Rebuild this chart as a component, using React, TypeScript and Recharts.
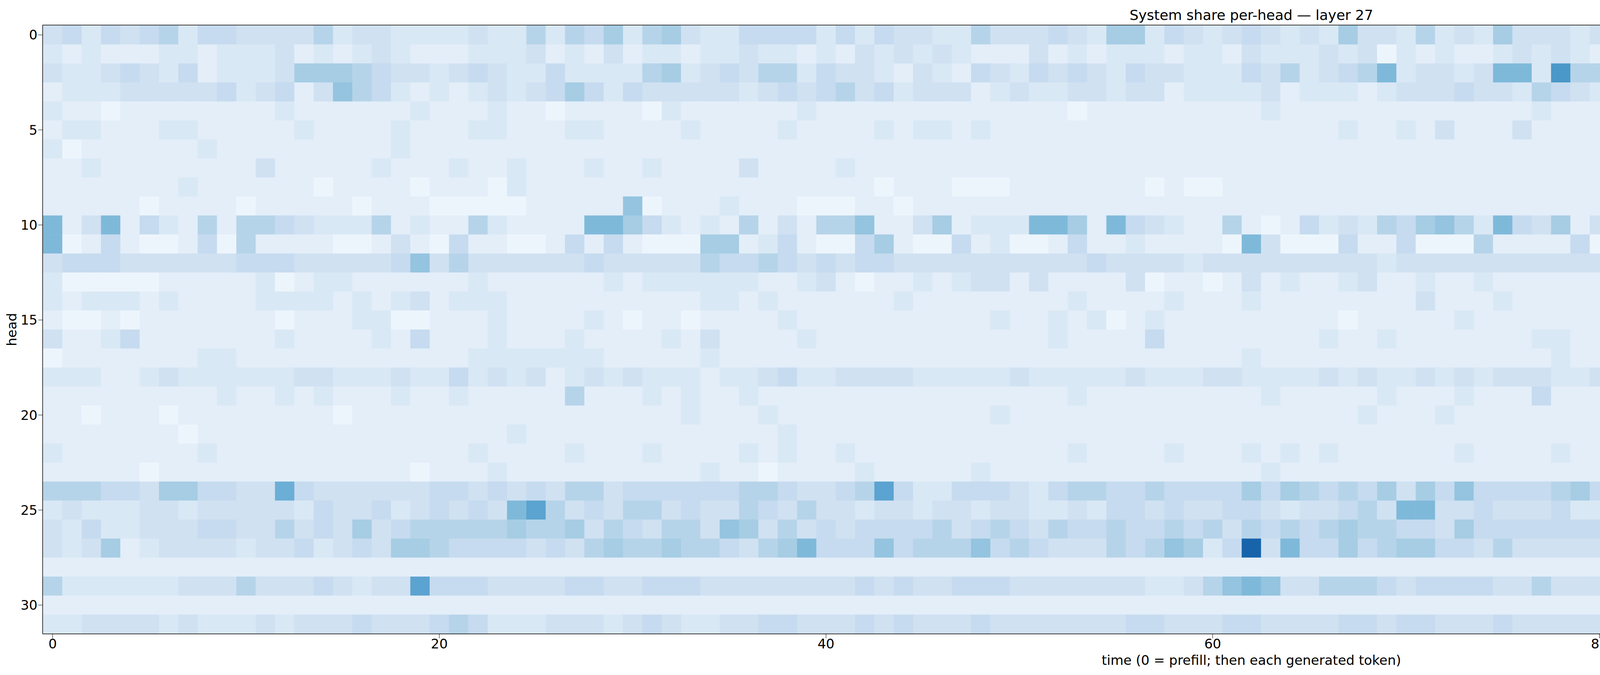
// @ts-nocheck
import { ScatterChart, Scatter, XAxis, YAxis, ComposedChart, ReferenceArea, Label } from 'recharts'

// each row = one head, 125 time steps; char index in SCALE / 20 = share
const SCALE = '0123456789ABCDEFGHIJK'
const H00 = '45354 56355 44446 34433 33433 63657 36743 35555 35354 43364 44543 77354 34543 43744 36343 74443 46434 33434 33744 45633 46353 63534 43423 44363 43444'
const H01 = '32322 23323 33423 23432 22333 42324 23323 34332 32434 34322 24232 33323 32433 34341 32322 34343 23232 33224 32334 34233 23342 32342 32323 33332 23234'
const H02 = '43345 43523 33477 76544 34543 35333 36734 54663 54432 43254 35454 35443 33546 34569 34434 993C6 64333 24334 33353 55342 33433 32234 43234 33332 33334'
const H03 = '23334 44445 34524 86532 32343 45753 54444 43454 56453 44423 43344 34423 33342 33323 44454 43654 34434 34342 42322 33352 23453 53333 44324 34232 33333'
const H04 = '32212 22222 22322 22223 22232 21222 21322 22223 22222 22222 22212 22222 22232 22222 22222 22322 22222 22222 22222 22232 22222 52222 22323 23232 22223'
const H05 = '23322 23322 22232 22232 22332 22332 22232 22232 22232 33232 22222 22222 22222 22322 32422 24222 22222 22222 22222 32222 23222 32232 22222 22422 23243'
const H06 = '31222 22232 22222 22232 22222 22222 22222 22222 22222 22222 22222 22222 22222 22222 22222 22222 22222 22222 22222 22222 22222 22222 22222 22222 22222'
const H07 = '22322 22222 24222 22322 23223 22232 23222 24222 23222 22222 22222 22222 22222 22222 22222 22222 22222 22222 22222 24222 24222 72422 22424 22232 25222'
const H08 = '22222 22322 22221 22221 22213 22222 22222 22222 22212 22111 22222 22121 12222 22222 22222 22222 22222 22222 22222 22222 21111 31111 22222 22222 22223'
const H09 = '22222 12222 12222 21222 11111 22222 81222 32221 11221 22222 22222 22222 22222 22222 22222 22222 22222 22212 22222 21222 22222 12222 22222 22222 22222'
const H10 = '92492 53262 66543 33623 22632 22299 75323 26242 66822 47233 39972 95432 26212 53436 57863 95472 45545 36278 57426 23556 66354 66328 24423 76312 63236'
const H11 = '91252 11251 62222 11242 15221 12525 21117 72352 11572 11523 11252 23222 21941 11522 51116 22225 11154 42542 22225 21461 21121 55121 23223 52545 21222'
const H12 = '45554 44444 55544 44458 46444 44454 44446 55654 54554 44444 44445 44443 44444 44443 44444 44444 44345 44444 44445 44444 44555 34444 44455 44444 44444'
const H13 = '31111 12222 23123 32222 22322 22223 23333 33223 42122 32344 24222 24122 12423 22342 23223 22222 22323 12222 22222 23232 43222 32233 24223 24233 34332'
const H14 = '32333 23222 23333 23234 23332 22222 22223 32322 22223 22222 22232 22232 22322 22222 24222 32222 22223 22222 22232 22322 33223 33222 22323 22322 33333'
const H15 = '21121 22222 22122 23311 22232 22232 12212 22232 22222 22223 22323 12322 22222 22122 22232 22222 22323 22222 22222 22222 32222 22222 22222 22222 22233'
const H16 = '42235 22222 22322 22325 22232 22322 22324 22223 22222 22222 22322 22522 22222 23223 22222 22332 22223 42222 22223 22222 62222 43222 22222 22222 22225'
const H17 = '12222 22233 22222 22222 22333 33332 22223 22222 22222 22222 22222 22222 22322 22222 22222 22232 22223 22222 22232 22222 12223 22222 22221 22222 22222'
const H18 = '33322 34333 33344 33343 35343 42343 43332 33453 34444 33333 43333 34333 44333 34343 34343 44433 43333 34444 33232 32544 33433 34242 32333 33323 22233'
const H19 = '22222 22223 22323 22232 23222 22622 23232 23222 22222 22222 22232 22222 22232 22223 22232 22522 22222 22222 22222 22222 22232 22262 22222 22222 22223'
const H20 = '22122 21222 22222 12222 22222 22222 22232 22322 22222 22223 22222 22222 22222 22232 22322 22222 22222 22222 22222 23222 22222 22122 22222 22222 22322'
const H21 = '22222 22122 22222 22222 22223 22222 22222 22232 22222 22222 22222 22222 22222 22222 22222 22222 22222 22222 22222 22222 22222 22222 22222 22222 22222'
const H22 = '32222 22232 22222 22222 22322 22322 23222 23232 23222 22222 22232 22232 22323 23222 22232 22232 22222 23322 22252 22322 22222 22222 22322 22222 22222'
const H23 = '22222 12222 22222 22221 22232 22222 22223 22122 22322 22232 22222 22222 22232 22222 22222 22222 22222 22222 22232 22323 22222 22323 22232 22222 22222'
const H24 = '66655 47755 44A54 44444 55454 54664 55555 56654 456B5 33555 43566 55655 55757 65657 47585 55567 55545 66666 44554 66666 85655 4655A 66555 6A655 38455'
const H25 = '34333 44344 44435 44534 54549 B6454 66454 46546 44344 34434 43343 55454 45543 44564 99445 44453 33553 44553 4B534 66434 45545 44443 34343 43343 33344'
const H26 = '43533 44455 44645 47456 66667 66746 54664 87464 54555 56456 54655 65565 64656 56766 55475 55555 55555 44555 56455 55544 54554 44643 45655 34444 33335'
const H27 = '43472 34444 34453 45477 65555 45467 66766 54679 55585 66685 65444 65687 35G49 55756 77554 64444 44566 44566 48456 56676 84454 56343 66666 66554 K8864'
const H28 = '22222 22222 22222 22222 22222 22222 22222 22222 22222 22222 22222 22222 22222 22222 22222 22222 22222 22222 22222 22222 22222 22222 22222 22222 22222'
const H29 = '63333 33444 64445 4344B 55544 44554 45554 44444 44545 44555 44444 44334 68984 46665 45555 44644 44444 44444 44544 66544 44444 44444 44444 44A64 55A33'
const H30 = '22222 22222 22222 22222 22222 22222 22222 22222 22222 22222 22222 22222 22222 22222 22222 22222 22222 22222 22222 22222 22222 22222 22222 22222 22222'
const H31 = '33444 43433 34344 45444 56533 34443 45433 44554 44545 44454 44444 45544 45544 44554 55444 54444 43444 44446 66444 44444 54543 44433 33333 33333 22222'
const HEADS = [H00, H01, H02, H03, H04, H05, H06, H07, H08, H09, H10, H11, H12, H13, H14, H15, H16, H17, H18, H19, H20, H21, H22, H23, H24, H25, H26, H27, H28, H29, H30, H31]
const X_TICKS = [0, 20, 40, 60, 80, 100, 120]
const Y_TICKS = [0, 5, 10, 15, 20, 25, 30]
const CB_TICKS = [0, 0.2, 0.4, 0.6, 0.8, 1.0]

const BLUES = ['#f7fbff', '#deebf7', '#c6dbef', '#9ecae1', '#6baed6', '#4292c6', '#2171b5', '#08519c', '#08306b']
const hex = (h) => [1, 3, 5].map(i => parseInt(h.slice(i, i + 2), 16))
function blues(v) {
  const t = Math.max(0, Math.min(1, v)) * 8
  const i = Math.min(7, Math.floor(t))
  const f = t - i
  const a = hex(BLUES[i]), b = hex(BLUES[i + 1])
  return `rgb(${a.map((c, k) => Math.round(c + (b[k] - c) * f)).join(',')})`
}

const cells = []
HEADS.forEach((row, h) => {
  row.replace(/ /g, '').split('').forEach((ch, t) => {
    cells.push({ t, h, v: SCALE.indexOf(ch) / 20 })
  })
})

const W = 7875, H = 1728
const PL = 110, PR = 6297, PT = 65, PB = 1622
const CW = (PR - PL) / 125, CH = (PB - PT) / 32
const font = { fontFamily: 'DejaVu Sans', fontSize: 34, fill: '#000' }

const Cell = ({ cx, cy, payload }) => (
  <rect x={cx - CW / 2} y={cy - CH / 2} width={CW + 0.6} height={CH + 0.6} fill={blues(payload.v)} />
)

export default function App() {
  return (
    <div style={{ position: 'absolute', left: 0, top: 0, width: W, height: H, background: '#fff' }}>
      <div style={{ position: 'absolute', left: 0, top: 0 }}>
        <ScatterChart width={W} height={H} margin={{ left: PL - 80, top: PT, right: W - PR, bottom: H - PB - 80 }}>
          <XAxis type="number" dataKey="t" domain={[-0.5, 124.5]} ticks={X_TICKS} tick={font} tickSize={12}
            stroke="#000" height={80} allowDataOverflow>
            <Label value="time (0 = prefill; then each generated token)" position="insideBottom" offset={0} style={font} />
          </XAxis>
          <YAxis type="number" dataKey="h" domain={[-0.5, 31.5]} reversed ticks={Y_TICKS} tick={font} tickSize={12}
            stroke="#000" width={80} allowDataOverflow>
            <Label value="head" angle={-90} position="insideLeft" offset={0} style={{ ...font, textAnchor: 'middle' }} />
          </YAxis>
          <Scatter data={cells} shape={Cell} isAnimationActive={false} />
          <ReferenceArea x1={-0.5} x2={124.5} y1={-0.5} y2={31.5} fill="none" stroke="#000" strokeWidth={3} ifOverflow="visible" />
        </ScatterChart>
      </div>
      <div style={{ position: 'absolute', left: (PL + PR) / 2 - 1000, width: 2000, top: 18, textAlign: 'center', ...font, fontSize: 36 }}>
        System share per-head — layer 27
      </div>
      <div style={{ position: 'absolute', left: 6687, top: 0 }}>
        <ComposedChart width={300} height={H} data={[{ x: 0 }]} margin={{ left: 0, top: PT, right: 300 - 81 - 120, bottom: H - PB }}>
          <defs>
            <linearGradient id="cb" x1="0" y1="1" x2="0" y2="0">
              {BLUES.map((c, i) => <stop key={i} offset={`${(i / 8) * 100}%`} stopColor={c} />)}
            </linearGradient>
          </defs>
          <XAxis dataKey="x" hide />
          <YAxis orientation="right" type="number" domain={[0, 1]} ticks={CB_TICKS} tickFormatter={v => v.toFixed(1)}
            tick={font} tickSize={12} stroke="#000" width={120} axisLine={false} />
          <ReferenceArea y1={0} y2={1} fill="url(#cb)" fillOpacity={1} stroke="#000" strokeWidth={3} ifOverflow="visible" />
        </ComposedChart>
      </div>
    </div>
  )
}
